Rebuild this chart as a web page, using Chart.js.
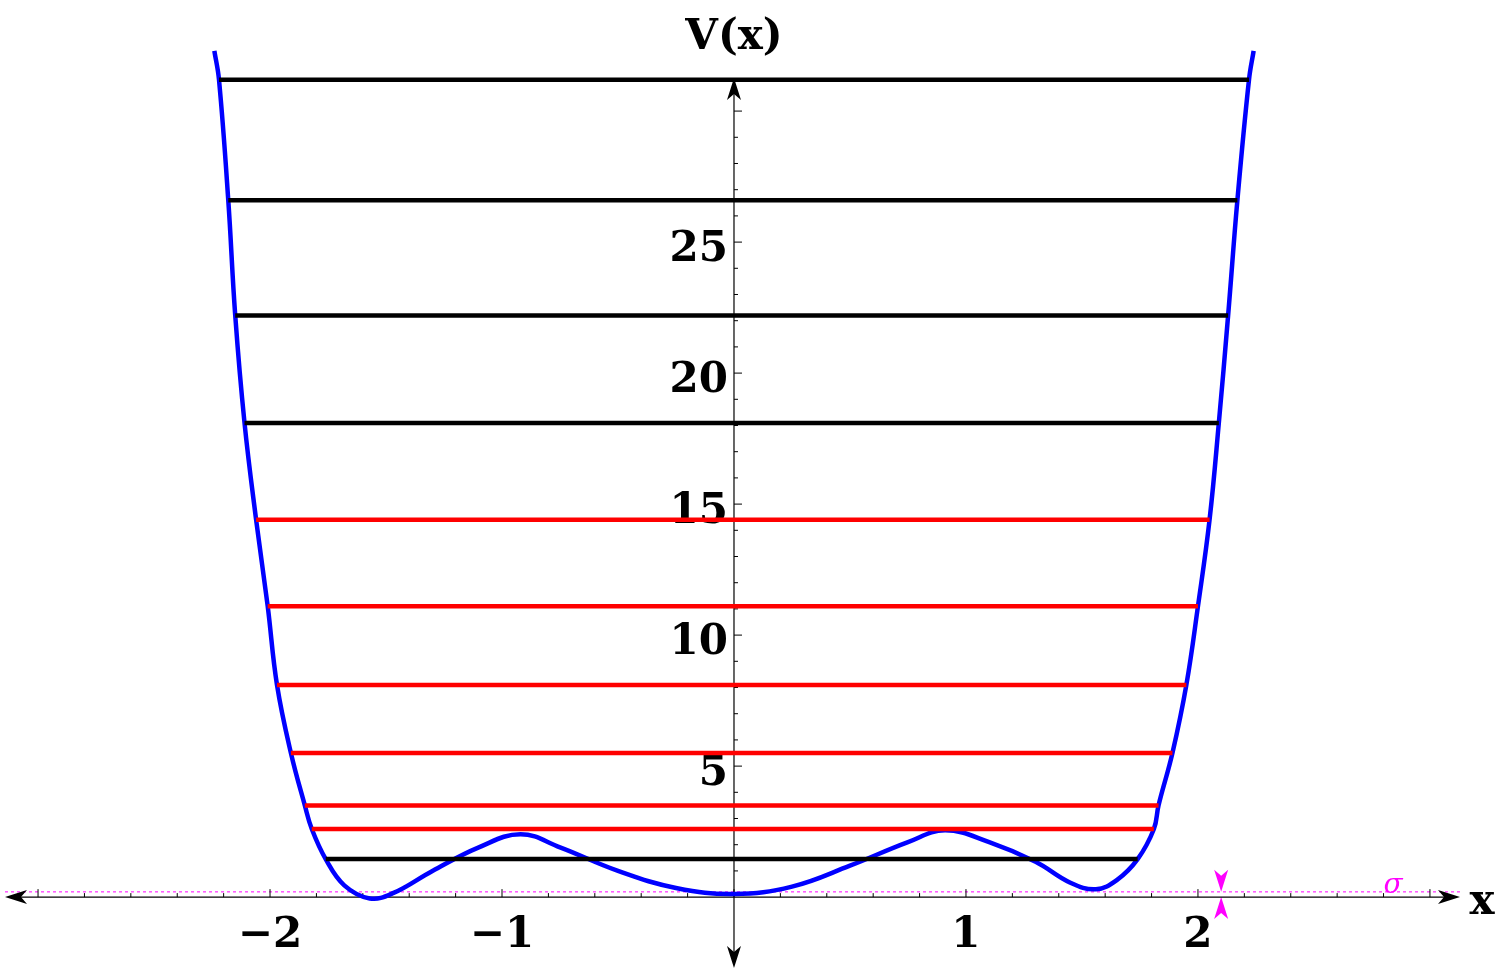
<!DOCTYPE html>
<html>
<head>
<meta charset="utf-8">
<script src="https://cdn.jsdelivr.net/npm/chart.js@4/dist/chart.umd.min.js"></script>
<style>
  html, body { margin: 0; padding: 0; background: #fff; }
  #wrap { width: 1500px; height: 971px; }
</style>
</head>
<body>
<div id="wrap"><canvas id="chart"></canvas></div>
<script>
// potential V(x)
var potX = [-2.24, -2.22, -2.18, -2.15, -2.11, -2.06, -2.01, -1.97, -1.91, -1.85, -1.82, -1.76, -1.68, -1.57, -1.47, -1.3, -1.1, -0.92, -0.75, -0.5, -0.25, 0, 0.25, 0.5, 0.75, 0.91, 1.1, 1.3, 1.45, 1.56, 1.65, 1.74, 1.81, 1.83, 1.89, 1.95, 2.0, 2.05, 2.09, 2.13, 2.17, 2.22, 2.24];
var potY = [32.3, 31.2, 26.6, 22.2, 18.1, 14.4, 11.1, 8.1, 5.5, 3.5, 2.6, 1.45, 0.45, -0.05, 0.15, 1.0, 1.9, 2.4, 1.9, 1.0, 0.35, 0.12, 0.4, 1.2, 2.1, 2.55, 2.1, 1.35, 0.55, 0.3, 0.65, 1.45, 2.6, 3.5, 5.5, 8.1, 11.1, 14.4, 18.1, 22.2, 26.6, 31.2, 32.3];

// energy levels
var levelE     = [31.2, 26.6, 22.2, 18.1, 14.4, 11.1, 8.1, 5.5, 3.5, 2.6, 1.45];
var levelLeft  = [-2.22, -2.18, -2.15, -2.11, -2.06, -2.01, -1.97, -1.91, -1.85, -1.82, -1.76];
var levelRight = [2.22, 2.17, 2.13, 2.09, 2.05, 2.0, 1.95, 1.89, 1.83, 1.81, 1.74];
var levelColor = ['#000', '#000', '#000', '#000', '#f00', '#f00', '#f00', '#f00', '#f00', '#f00', '#000'];

var xTicks = [-2, -1, 1, 2];
var yTicks = [5, 10, 15, 20, 25];
var sigma = 0.2;

var datasets = [];
for (var i = 0; i < levelE.length; i++) {
  datasets.push({
    data: [{x: levelLeft[i], y: levelE[i]}, {x: levelRight[i], y: levelE[i]}],
    borderColor: levelColor[i], borderWidth: 4.5, pointRadius: 0, tension: 0
  });
}
datasets.push({
  data: potX.map(function (x, k) { return {x: x, y: potY[k]}; }),
  borderColor: '#0000ff', borderWidth: 4.5, pointRadius: 0, tension: 0.4
});

function arrow(ctx, x, y, dir) {
  var L = 22, W = 7;
  ctx.beginPath();
  if (dir === 'r') { ctx.moveTo(x, y); ctx.lineTo(x - L, y - W); ctx.lineTo(x - L + 6, y); ctx.lineTo(x - L, y + W); }
  if (dir === 'l') { ctx.moveTo(x, y); ctx.lineTo(x + L, y - W); ctx.lineTo(x + L - 6, y); ctx.lineTo(x + L, y + W); }
  if (dir === 'u') { ctx.moveTo(x, y); ctx.lineTo(x - W, y + L); ctx.lineTo(x, y + L - 6); ctx.lineTo(x + W, y + L); }
  if (dir === 'd') { ctx.moveTo(x, y); ctx.lineTo(x - W, y - L); ctx.lineTo(x, y - L + 6); ctx.lineTo(x + W, y - L); }
  ctx.closePath();
  ctx.fill();
}

var axesPlugin = {
  id: 'axes',
  beforeDatasetsDraw: function (chart) {
    var ctx = chart.ctx, sx = chart.scales.x, sy = chart.scales.y;
    var x0 = sx.getPixelForValue(0), y0 = sy.getPixelForValue(0);
    ctx.save();
    var ys = sy.getPixelForValue(sigma);
    ctx.strokeStyle = '#ff00ff'; ctx.lineWidth = 1; ctx.setLineDash([3, 3]);
    ctx.beginPath(); ctx.moveTo(5, ys); ctx.lineTo(1460, ys); ctx.stroke();
    ctx.setLineDash([]);
    ctx.fillStyle = '#ff00ff';
    var xa = sx.getPixelForValue(2.1);
    arrow(ctx, xa, ys, 'd'); arrow(ctx, xa, y0, 'u');
    ctx.font = 'italic 28px "DejaVu Serif"';
    ctx.textAlign = 'center'; ctx.textBaseline = 'middle';
    ctx.fillText('σ', 1393, ys - 6);
    ctx.strokeStyle = '#000'; ctx.fillStyle = '#000'; ctx.lineWidth = 1.2;
    ctx.beginPath(); ctx.moveTo(10, y0); ctx.lineTo(1455, y0); ctx.stroke();
    ctx.beginPath(); ctx.moveTo(x0, 90); ctx.lineTo(x0, 962); ctx.stroke();
    arrow(ctx, 5, y0, 'l'); arrow(ctx, 1460, y0, 'r');
    arrow(ctx, x0, 78, 'u'); arrow(ctx, x0, 968, 'd');
    ctx.lineWidth = 1;
    for (var v = -3; v <= 3.01; v += 0.2) {
      var px = sx.getPixelForValue(v), big = Math.abs(v - Math.round(v)) < 0.01;
      ctx.beginPath(); ctx.moveTo(px, y0); ctx.lineTo(px, y0 - (big ? 8 : 4)); ctx.stroke();
    }
    for (var w = 1; w <= 30; w++) {
      var py = sy.getPixelForValue(w), bg = w % 5 === 0;
      ctx.beginPath(); ctx.moveTo(x0, py); ctx.lineTo(x0 + (bg ? 8 : 4), py); ctx.stroke();
    }
    ctx.font = 'bold 42px "DejaVu Serif"';
    ctx.textAlign = 'center'; ctx.textBaseline = 'top';
    xTicks.forEach(function (t) {
      ctx.fillText((t < 0 ? '\u2212' : '') + Math.abs(t), sx.getPixelForValue(t), y0 + 18);
    });
    ctx.textAlign = 'right'; ctx.textBaseline = 'middle';
    yTicks.forEach(function (t) { ctx.fillText(String(t), x0 - 6, sy.getPixelForValue(t) + 8); });
    ctx.textAlign = 'center';
    ctx.fillText('V(x)', x0, 38);
    ctx.fillText('x', 1482, y0 + 6);
    ctx.restore();
  }
};

new Chart(document.getElementById('chart'), {
  type: 'line',
  data: { datasets: datasets },
  options: {
    responsive: true, maintainAspectRatio: false, animation: false,
    layout: { padding: 0 },
    plugins: { legend: { display: false }, tooltip: { enabled: false } },
    scales: {
      x: { type: 'linear', min: -3.164, max: 3.302, display: false },
      y: { type: 'linear', min: -2.82, max: 34.24, display: false }
    }
  },
  plugins: [axesPlugin]
});
</script>
</body>
</html>
